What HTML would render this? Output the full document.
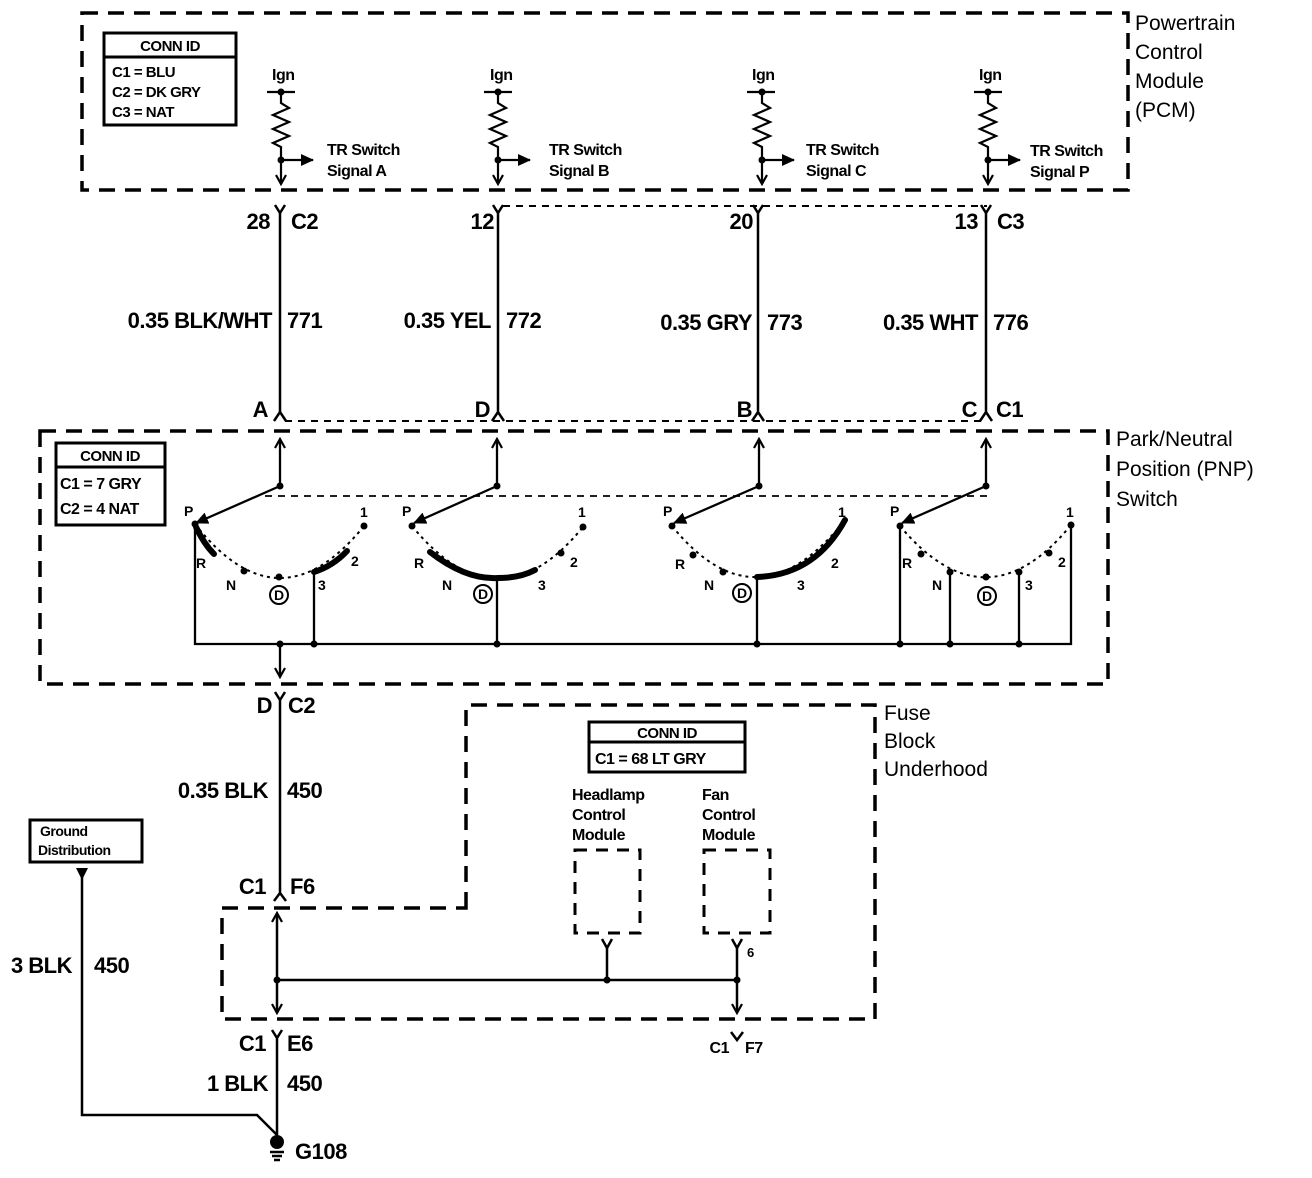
<!DOCTYPE html>
<html><head><meta charset="utf-8"><style>
html,body{margin:0;padding:0;background:#fff;}
svg{display:block;}
text{font-family:"Liberation Sans",Arial,sans-serif;font-weight:bold;fill:#000;}
</style></head><body>
<svg width="1312" height="1178" viewBox="0 0 1312 1178" xmlns="http://www.w3.org/2000/svg">
<defs>
<marker id="ah" markerWidth="12" markerHeight="12" refX="9" refY="6" orient="auto" markerUnits="userSpaceOnUse"><path d="M1,1 L10,6 L1,11" fill="none" stroke="#000" stroke-width="2.2"/></marker>
<marker id="af" markerWidth="14" markerHeight="12" refX="12" refY="6" orient="auto" markerUnits="userSpaceOnUse"><path d="M0,0 L13,6 L0,12 Z" fill="#000"/></marker>
</defs>
<g fill="none" stroke="#000">
<rect x="82" y="13" width="1046" height="177" stroke-width="3.5" stroke-dasharray="16,10"/>
<rect x="40" y="431" width="1068" height="253" stroke-width="3.5" stroke-dasharray="16,10"/>
<path d="M466,908 L466,705 L875,705 L875,1019 L222,1019 L222,908 Z" stroke-width="3.5" stroke-dasharray="16,10"/>
<rect x="575" y="850" width="65" height="83" stroke-width="3" stroke-dasharray="12,9"/>
<rect x="704" y="850" width="66" height="83" stroke-width="3" stroke-dasharray="12,9"/>
<path d="M503,206 H987 M285,421 H987" stroke-width="2" stroke-dasharray="7,6"/>
<path d="M265,496 H990" stroke-width="1.8" stroke-dasharray="7,6"/>
</g>
<g fill="none" stroke="#000" stroke-width="3">
<rect x="104" y="33" width="132" height="92"/><line x1="104" y1="57" x2="236" y2="57"/>
<rect x="56" y="443" width="109" height="82"/><line x1="56" y1="467" x2="165" y2="467"/>
<rect x="589" y="722" width="156" height="50"/><line x1="589" y1="742" x2="745" y2="742"/>
<rect x="30" y="820" width="112" height="42"/>
</g>
<g font-size="15" style="letter-spacing:-0.5px">
<text x="170" y="51" text-anchor="middle">CONN ID</text>
<text x="112" y="77">C1 = BLU</text>
<text x="112" y="97">C2 = DK GRY</text>
<text x="112" y="117">C3 = NAT</text>
<text x="110" y="461" text-anchor="middle">CONN ID</text>
<text x="60" y="489" font-size="16">C1 = 7 GRY</text>
<text x="60" y="514" font-size="16">C2 = 4 NAT</text>
<text x="667" y="738" text-anchor="middle">CONN ID</text>
<text x="595" y="764" font-size="16">C1 = 68 LT GRY</text>
<text x="40" y="836" font-size="14">Ground</text>
<text x="38" y="855" font-size="14">Distribution</text>
<text x="572" y="800" font-size="16">Headlamp</text>
<text x="572" y="820" font-size="16">Control</text>
<text x="572" y="840" font-size="16">Module</text>
<text x="702" y="800" font-size="16">Fan</text>
<text x="702" y="820" font-size="16">Control</text>
<text x="702" y="840" font-size="16">Module</text>
</g>
<g font-size="21">
<text x="1135" y="30" style="font-weight:normal">Powertrain</text>
<text x="1135" y="59" style="font-weight:normal">Control</text>
<text x="1135" y="88" style="font-weight:normal">Module</text>
<text x="1135" y="117" style="font-weight:normal">(PCM)</text>
<text x="1116" y="446" style="font-weight:normal">Park/Neutral</text>
<text x="1116" y="476" style="font-weight:normal">Position (PNP)</text>
<text x="1116" y="506" style="font-weight:normal">Switch</text>
<text x="884" y="720" style="font-weight:normal">Fuse</text>
<text x="884" y="748" style="font-weight:normal">Block</text>
<text x="884" y="776" style="font-weight:normal">Underhood</text>
</g>
<!-- PCM internals -->
<g stroke="#000" stroke-width="2.2" fill="none">
<path d="M267,92 H295 M484,92 H512 M747,92 H775 M974,92 H1002"/>
<path d="M281,92 V103 l8,5 l-16,7 l16,7 l-16,7 l16,7 l-16,7 l8,4 V183" marker-end="url(#ah)"/>
<path d="M498,92 V103 l8,5 l-16,7 l16,7 l-16,7 l16,7 l-16,7 l8,4 V183" marker-end="url(#ah)"/>
<path d="M762,92 V103 l8,5 l-16,7 l16,7 l-16,7 l16,7 l-16,7 l8,4 V183" marker-end="url(#ah)"/>
<path d="M988,92 V103 l8,5 l-16,7 l16,7 l-16,7 l16,7 l-16,7 l8,4 V183" marker-end="url(#ah)"/>
<path d="M281,160 H313" marker-end="url(#af)"/>
<path d="M498,160 H530" marker-end="url(#af)"/>
<path d="M762,160 H794" marker-end="url(#af)"/>
<path d="M988,160 H1020" marker-end="url(#af)"/>
</g>
<g fill="#000">
<circle cx="281" cy="92" r="3.5"/><circle cx="498" cy="92" r="3.5"/><circle cx="762" cy="92" r="3.5"/><circle cx="988" cy="92" r="3.5"/>
<circle cx="281" cy="160" r="3.5"/><circle cx="498" cy="160" r="3.5"/><circle cx="762" cy="160" r="3.5"/><circle cx="988" cy="160" r="3.5"/>
</g>
<g font-size="16" style="letter-spacing:-0.5px">
<text x="272" y="80">Ign</text><text x="490" y="80">Ign</text><text x="752" y="80">Ign</text><text x="979" y="80">Ign</text>
<text x="327" y="155">TR Switch</text><text x="327" y="176">Signal A</text>
<text x="549" y="155">TR Switch</text><text x="549" y="176">Signal B</text>
<text x="806" y="155">TR Switch</text><text x="806" y="176">Signal C</text>
<text x="1030" y="156">TR Switch</text><text x="1030" y="177">Signal P</text>
</g>
<g stroke="#000" stroke-width="2.5" fill="none">
<path d="M275,205 L280,213 L285,205 M280,213 V412 M274,421 L280,412 L286,421"/>
<path d="M493,205 L498,213 L503,205 M498,213 V412 M492,421 L498,412 L504,421"/>
<path d="M753,205 L758,213 L763,205 M758,213 V412 M752,421 L758,412 L764,421"/>
<path d="M981,205 L986,213 L991,205 M986,213 V412 M980,421 L986,412 L992,421"/>
</g>
<g font-size="22" style="letter-spacing:-0.5px">
<text x="270" y="229" text-anchor="end">28</text><text x="291" y="229">C2</text>
<text x="494" y="229" text-anchor="end">12</text>
<text x="753" y="229" text-anchor="end">20</text>
<text x="978" y="229" text-anchor="end">13</text><text x="997" y="229">C3</text>
<text x="272" y="328" text-anchor="end">0.35 BLK/WHT</text><text x="287" y="328">771</text>
<text x="491" y="328" text-anchor="end">0.35 YEL</text><text x="506" y="328">772</text>
<text x="752" y="330" text-anchor="end">0.35 GRY</text><text x="767" y="330">773</text>
<text x="978" y="330" text-anchor="end">0.35 WHT</text><text x="993" y="330">776</text>
<text x="268" y="417" text-anchor="end">A</text>
<text x="490" y="417" text-anchor="end">D</text>
<text x="752" y="417" text-anchor="end">B</text>
<text x="977" y="417" text-anchor="end">C</text><text x="996" y="417">C1</text>
</g>
<!-- PNP switches -->
<g stroke="#000" stroke-width="2.3" fill="none">
<path d="M280,486 V440" marker-end="url(#ah)"/>
<path d="M497,486 V440" marker-end="url(#ah)"/>
<path d="M759,486 V440" marker-end="url(#ah)"/>
<path d="M986,486 V440" marker-end="url(#ah)"/>
<path d="M280,486 L196,523" marker-end="url(#af)"/>
<path d="M497,486 L414,523" marker-end="url(#af)"/>
<path d="M759,486 L674,523" marker-end="url(#af)"/>
<path d="M986,486 L902,523" marker-end="url(#af)"/>
<path d="M195,524 Q279,631 364,526" stroke-dasharray="3,4" stroke-width="2"/>
<path d="M412,526 Q498,631 583,527" stroke-dasharray="3,4" stroke-width="2"/>
<path d="M672,526 Q757,631 845,520" stroke-dasharray="3,4" stroke-width="2"/>
<path d="M900,526 Q986,629 1071,525" stroke-dasharray="3,4" stroke-width="2"/>
<path d="M195,524 V644 H1071 V525"/>
<path d="M314,573 V644 M497,577 V644 M757,578 V644 M900,526 V644 M950,572 V644 M1019,572 V644"/>
<path d="M280,644 V676" marker-end="url(#ah)"/>
</g>
<g stroke="#000" stroke-width="6" fill="none" stroke-linecap="round">
<path d="M196,527 Q204,544 214,554"/>
<path d="M314,572 Q333,566 347,551"/>
<path d="M430,552 Q466,580 498,578 Q520,578 535,570"/>
<path d="M757,577 Q815,575 845,520"/>
</g>
<g fill="#000">
<circle cx="195" cy="524" r="3.5"/><circle cx="244" cy="571" r="3.5"/><circle cx="279" cy="577" r="3.5"/><circle cx="364" cy="526" r="3.5"/>
<circle cx="412" cy="526" r="3.5"/><circle cx="561" cy="553" r="3.5"/><circle cx="583" cy="527" r="3.5"/>
<circle cx="672" cy="526" r="3.5"/><circle cx="693" cy="555" r="3.5"/><circle cx="723" cy="572" r="3.5"/>
<circle cx="900" cy="526" r="3.5"/><circle cx="921" cy="554" r="3.5"/><circle cx="950" cy="572" r="3.5"/><circle cx="986" cy="577" r="3.5"/><circle cx="1019" cy="572" r="3.5"/><circle cx="1049" cy="553" r="3.5"/><circle cx="1071" cy="525" r="3.5"/>
<circle cx="280" cy="486" r="3.5"/><circle cx="497" cy="486" r="3.5"/><circle cx="759" cy="486" r="3.5"/><circle cx="986" cy="486" r="3.5"/>
<circle cx="280" cy="644" r="3.5"/><circle cx="314" cy="644" r="3.5"/><circle cx="497" cy="644" r="3.5"/><circle cx="757" cy="644" r="3.5"/><circle cx="900" cy="644" r="3.5"/><circle cx="950" cy="644" r="3.5"/><circle cx="1019" cy="644" r="3.5"/>
</g>
<g font-size="14">
<text x="184" y="516">P</text><text x="196" y="568">R</text><text x="226" y="590">N</text><text x="318" y="590">3</text><text x="351" y="566">2</text><text x="360" y="517">1</text>
<text x="402" y="516">P</text><text x="414" y="568">R</text><text x="442" y="590">N</text><text x="538" y="590">3</text><text x="570" y="567">2</text><text x="578" y="517">1</text>
<text x="663" y="516">P</text><text x="675" y="569">R</text><text x="704" y="590">N</text><text x="797" y="590">3</text><text x="831" y="568">2</text><text x="838" y="517">1</text>
<text x="890" y="516">P</text><text x="902" y="568">R</text><text x="932" y="590">N</text><text x="1025" y="590">3</text><text x="1058" y="567">2</text><text x="1066" y="517">1</text>
</g>
<g stroke="#000" stroke-width="2" fill="none">
<circle cx="279" cy="595" r="9"/><circle cx="483" cy="594" r="9"/><circle cx="742" cy="593" r="9"/><circle cx="987" cy="596" r="9"/>
</g>
<g font-size="14">
<text x="279" y="600" text-anchor="middle">D</text><text x="483" y="599" text-anchor="middle">D</text><text x="742" y="598" text-anchor="middle">D</text><text x="987" y="601" text-anchor="middle">D</text>
</g>
<!-- lower wiring -->
<g stroke="#000" stroke-width="2.5" fill="none">
<path d="M275,692 L280,700 L285,692 M280,700 V893 M274,901 L280,893 L286,901"/>
<path d="M277,980 V914" marker-end="url(#ah)"/>
<path d="M277,980 V1012" marker-end="url(#ah)"/>
<path d="M277,980 H737 M607,948 V980 M737,948 V980"/>
<path d="M602,939 L607,948 L612,939 M732,939 L737,948 L742,939"/>
<path d="M737,980 V1012" marker-end="url(#ah)"/>
<path d="M731,1032 L737,1040 L743,1032"/>
<path d="M272,1030 L277,1038 L282,1030 M277,1038 V1140"/>
<path d="M82,873 V1115 H257 L277,1135"/>
<path d="M270,1152 H284 M272,1156 H282 M274,1160 H280"/>
</g>
<path d="M76,868 H88 L82,880 Z" fill="#000"/>
<g fill="#000"><circle cx="277" cy="980" r="3.5"/><circle cx="607" cy="980" r="3.5"/><circle cx="737" cy="980" r="3.5"/><circle cx="277" cy="1142" r="7"/></g>
<g font-size="22" style="letter-spacing:-0.5px">
<text x="272" y="713" text-anchor="end">D</text><text x="288" y="713">C2</text>
<text x="268" y="798" text-anchor="end">0.35 BLK</text><text x="287" y="798">450</text>
<text x="266" y="894" text-anchor="end">C1</text><text x="290" y="894">F6</text>
<text x="266" y="1051" text-anchor="end">C1</text><text x="287" y="1051">E6</text>
<text x="268" y="1091" text-anchor="end">1 BLK</text><text x="287" y="1091">450</text>
<text x="72" y="973" text-anchor="end">3 BLK</text><text x="94" y="973">450</text>
<text x="295" y="1159">G108</text>
<text x="729" y="1053" text-anchor="end" font-size="16">C1</text><text x="745" y="1053" font-size="16">F7</text>
<text x="747" y="957" font-size="13">6</text>
</g>
</svg>
</body></html>
